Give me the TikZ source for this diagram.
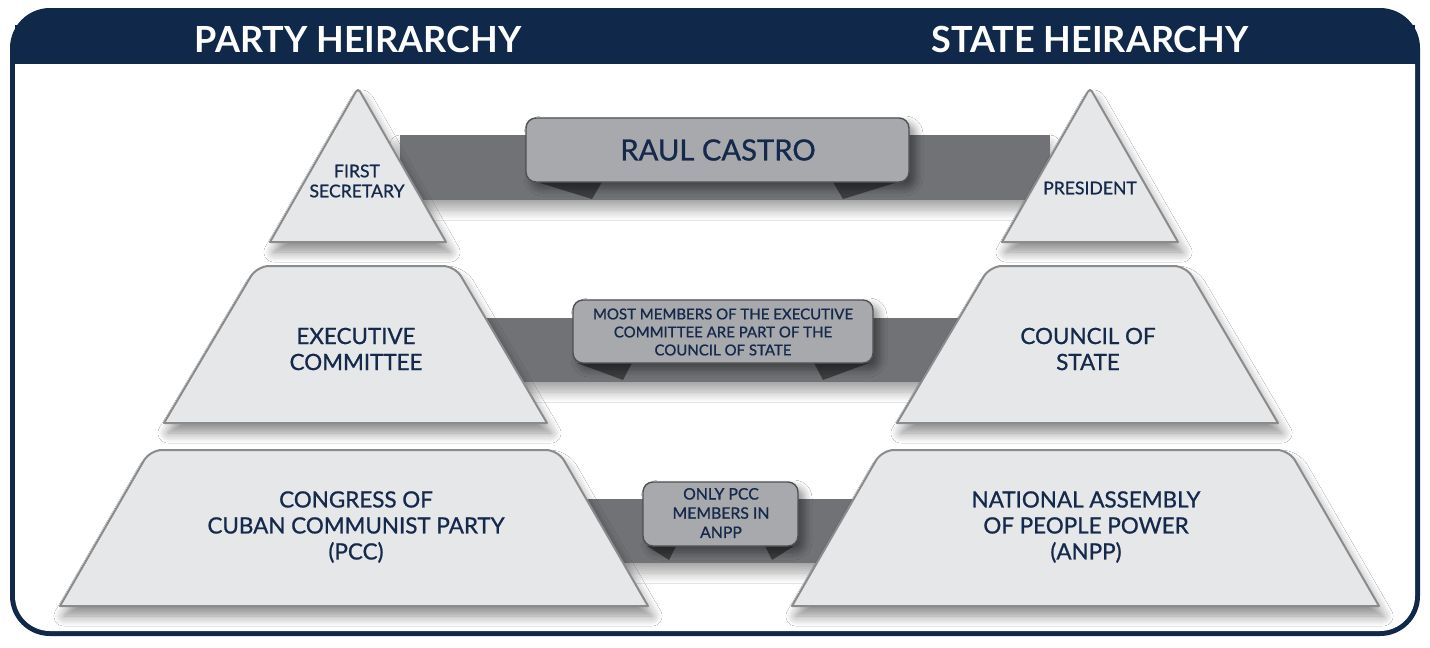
\documentclass[tikz,border=0pt]{standalone}
\usepackage{fontspec}
\setmainfont{Lato}
\newfontfamily\medfont{Lato}[FakeBold=0.9]
\usetikzlibrary{shadows.blur}
\definecolor{navy}{HTML}{10284A}
\definecolor{txt}{HTML}{14294B}
\definecolor{pyr}{HTML}{E6E7E8}
\definecolor{pyrline}{HTML}{8A8B8D}
\definecolor{bandc}{HTML}{707275}
\definecolor{foldc}{HTML}{3D3E40}
\definecolor{bannerc}{HTML}{A8A9AC}
\definecolor{bannerline}{HTML}{505153}
\begin{document}
\begin{tikzpicture}[x=0.5pt,y=-0.5pt,
  pyramid/.style={fill=pyr, draw=pyrline, line width=1pt, line join=round,
    blur shadow={shadow xshift=2pt, shadow yshift=-5pt, shadow blur radius=5pt, shadow blur steps=10, shadow opacity=45}},
  bandstyle/.style={fill=bandc, blur shadow={shadow xshift=0pt, shadow yshift=-5pt, shadow blur radius=5pt, shadow blur steps=10, shadow opacity=35}},
  foldstyle/.style={fill=foldc},
  bannerstyle/.style={fill=bannerc, draw=bannerline, line width=0.7pt, rounded corners=5pt,
    blur shadow={shadow xshift=3pt, shadow yshift=-3pt, shadow blur radius=4pt, shadow blur steps=8, shadow opacity=45}},
  lbl/.style={text=txt, align=center, inner sep=0pt, font=\medfont\fontsize{11.2}{13}\selectfont},
  smalllbl/.style={text=txt, align=center, inner sep=0pt, font=\medfont\fontsize{8.8}{10}\selectfont},
  bannerlbl/.style={text=txt, align=center, inner sep=0pt, font=\medfont\fontsize{7.5}{9}\selectfont},
  headlbl/.style={text=white, inner sep=0pt, font=\bfseries\fontsize{18}{20}\selectfont}
]
\useasboundingbox (0,0) rectangle (1430,648);
% frame
\fill[navy, rounded corners=20pt] (10,8) rectangle (1420,636);
\fill[white, rounded corners=17.5pt] (15,30) rectangle (1415,631);
\fill[navy] (15,25) rectangle (1415,64);
\node[headlbl] (ph) at (358,39) {PARTY HEIRARCHY};
\node[headlbl] (sh) at (1090,39) {STATE HEIRARCHY};

% bands
\path[bandstyle] (400,135) rectangle (1050,200);
\path[bandstyle] (480,318) rectangle (960,382);
\path[bandstyle] (580,499) rectangle (860,563);

% folds
\path[foldstyle] (537,182) -- (602,182) -- (592,199) -- cycle;
\path[foldstyle] (898,182) -- (833,182) -- (843,199) -- cycle;
\path[foldstyle] (577,363) -- (632,363) -- (623,380) -- cycle;
\path[foldstyle] (869,363) -- (814,363) -- (823,380) -- cycle;
\path[foldstyle] (647,546) -- (676,546) -- (669,560) -- cycle;
\path[foldstyle] (794,546) -- (765,546) -- (772,560) -- cycle;

% banners
\path[bannerstyle] (526,118) rectangle (909,182);
\path[bannerstyle] (573,300) rectangle (873,363);
\path[bannerstyle] (643,482) rectangle (798,546);

% pyramids
\path[pyramid] (270,242) [rounded corners=2pt] -- (358,88) [sharp corners] -- (446,242) -- cycle;
\path[pyramid] (1002,242) [rounded corners=2pt] -- (1090,88) [sharp corners] -- (1178,242) -- cycle;
\path[pyramid] (164,423) [rounded corners=6pt] -- (257,266) -- (455,266) [sharp corners] -- (547,423) -- cycle;
\path[pyramid] (897,423) [rounded corners=6pt] -- (990,266) -- (1186,266) [sharp corners] -- (1278,423) -- cycle;
\path[pyramid] (60,606) [rounded corners=6pt] -- (150,450) -- (558,450) [sharp corners] -- (648,606) -- cycle;
\path[pyramid] (792,606) [rounded corners=6pt] -- (882,450) -- (1289,450) [sharp corners] -- (1379,606) -- cycle;

% labels
\node[smalllbl] (fs) at (357,181) {FIRST\\SECRETARY};
\node[smalllbl] (pr) at (1090,188) {PRESIDENT};
\node[lbl] (ec) at (356,349) {EXECUTIVE\\COMMITTEE};
\node[lbl] (cs) at (1088,349) {COUNCIL OF\\STATE};
\node[lbl] (pcc) at (356,527) {CONGRESS OF\\CUBAN COMMUNIST PARTY\\(PCC)};
\node[lbl] (anpp) at (1086,527) {NATIONAL ASSEMBLY\\OF PEOPLE POWER\\(ANPP)};
\node[text=txt, inner sep=0pt, font=\medfont\fontsize{14.6}{17}\selectfont] (rc) at (718,150) {RAUL CASTRO};
\node[bannerlbl] (mm) at (723,332) {MOST MEMBERS OF THE EXECUTIVE\\COMMITTEE ARE PART OF THE\\COUNCIL OF STATE};
\node[bannerlbl, font=\medfont\fontsize{7.9}{9.6}\selectfont] (op) at (721,513) {ONLY PCC\\MEMBERS IN\\ANPP};
\end{tikzpicture}
\end{document}
